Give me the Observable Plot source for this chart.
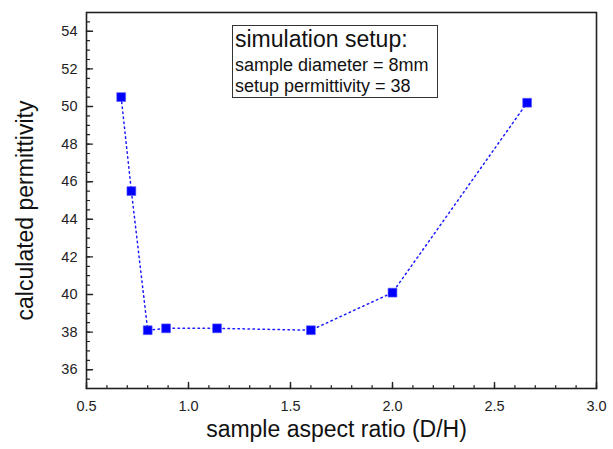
<!DOCTYPE html>
<html><head><meta charset="utf-8">
<script src="https://cdn.jsdelivr.net/npm/d3@7"></script>
<script src="https://cdn.jsdelivr.net/npm/@observablehq/plot@0.6"></script>
<style>
body{margin:0;background:#fff;}
#wrap{width:613px;height:449px;}
</style></head><body><div id="wrap"></div>
<script>
const ratio = [0.67, 0.72, 0.80, 0.89, 1.14, 1.60, 2.00, 2.66];
const perm  = [50.5, 45.5, 38.1, 38.2, 38.2, 38.1, 40.1, 50.2];
const xTicks = [0.5, 1.0, 1.5, 2.0, 2.5, 3.0];
const yTicks = [36, 38, 40, 42, 44, 46, 48, 50, 52, 54];
const xMinor = d3.range(5, 31).map(d => d / 10);
const yMinor = d3.range(70, 111).map(d => d / 2);
const xLabel = "sample aspect ratio (D/H)";
const yLabel = "calculated permittivity";
const boxLines = ["simulation setup:", "sample diameter = 8mm", "setup permittivity = 38"];

const data = ratio.map((r, i) => ({r, p: perm[i]}));
const font = "'Liberation Sans', Arial, sans-serif";
const tickShape = {draw(ctx, l) { ctx.moveTo(0, 0); ctx.lineTo(0, -l); }};

const chart = Plot.plot({
  width: 613, height: 449,
  marginLeft: 86, marginRight: 17, marginTop: 12, marginBottom: 61,
  style: {fontFamily: font, color: "#222", background: "#fff"},
  x: {domain: [0.5, 3.0], axis: null},
  y: {domain: [35, 55], axis: null},
  marks: [
    Plot.vector(xMinor, {x: d => d, frameAnchor: "bottom", anchor: "start", length: 3, rotate: 0, shape: tickShape, stroke: "#222", strokeWidth: 1.2}),
    Plot.vector(xTicks, {x: d => d, frameAnchor: "bottom", anchor: "start", length: 6, rotate: 0, shape: tickShape, stroke: "#222", strokeWidth: 1.4}),
    Plot.vector(yMinor, {y: d => d, frameAnchor: "left", anchor: "start", length: 3, rotate: 90, shape: tickShape, stroke: "#222", strokeWidth: 1.2}),
    Plot.vector(yTicks, {y: d => d, frameAnchor: "left", anchor: "start", length: 6, rotate: 90, shape: tickShape, stroke: "#222", strokeWidth: 1.4}),
    Plot.axisX(xTicks, {anchor: "bottom", label: null, tickSize: 0, tickPadding: 12, tickFormat: d3.format(".1f"), fontSize: 14.5, fill: "#222"}),
    Plot.axisY(yTicks, {anchor: "left", label: null, tickSize: 0, tickPadding: 9, fontSize: 14.5, fill: "#222"}),
    Plot.frame({stroke: "#222", strokeWidth: 1.6}),
    Plot.line(data, {x: "r", y: "p", stroke: "#1a1aff", strokeWidth: 1.5, strokeDasharray: "1.5,3.5"}),
    Plot.dot(data, {x: "r", y: "p", symbol: "square", r: 5, fill: "#0000ff", stroke: "#5a5aff", strokeWidth: 0.6}),
    Plot.text([xLabel], {frameAnchor: "bottom", textAnchor: "middle", lineAnchor: "middle", dy: 41, dx: -5, fontSize: 23, fill: "#111"}),
    Plot.text([yLabel], {frameAnchor: "left", textAnchor: "middle", lineAnchor: "middle", rotate: -90, dx: -61, dy: 10, fontSize: 23, fill: "#111"})
  ]
});
document.getElementById("wrap").appendChild(chart);

const svg = d3.select(chart);
const g = svg.append("g").attr("font-family", font).attr("fill", "#111").attr("text-anchor", "start");
g.append("rect").attr("x", 232.5).attr("y", 25.5).attr("width", 205).attr("height", 72)
  .attr("fill", "#fff").attr("stroke", "#333").attr("stroke-width", 1);
const sizes = [23, 18, 18];
const baselines = [47, 71, 92];
boxLines.forEach((t, i) => {
  g.append("text").attr("x", 235).attr("y", baselines[i]).attr("font-size", sizes[i]).attr("text-anchor", "start").text(t);
});
</script>
</body></html>
